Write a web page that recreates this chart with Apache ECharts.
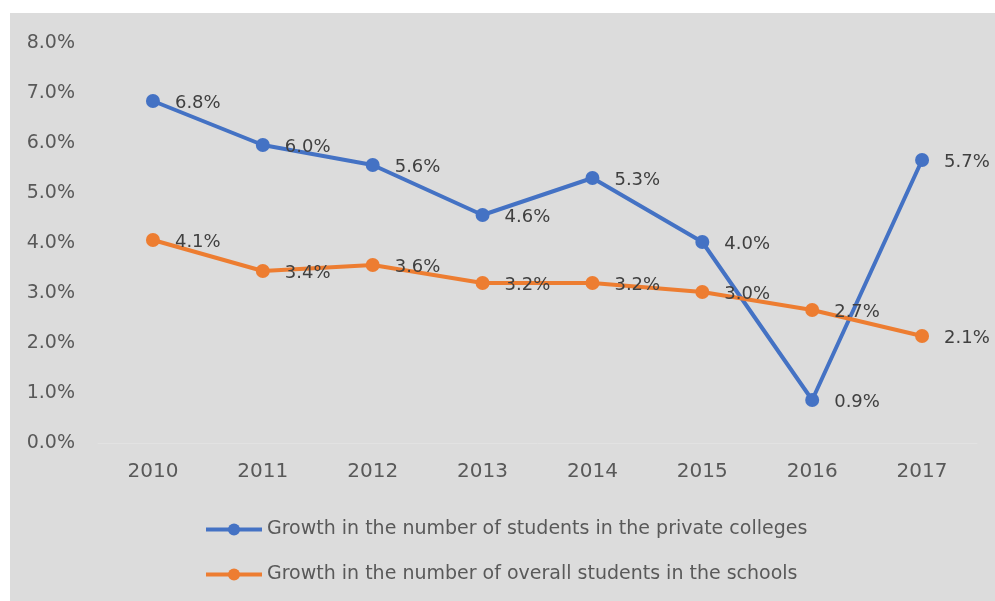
<!DOCTYPE html>
<html>
<head>
<meta charset="utf-8">
<script src="https://cdn.jsdelivr.net/npm/echarts@6/dist/echarts.min.js"></script>
<style>html,body{margin:0;padding:0;background:#fff;}#c{width:995px;height:601px;}</style>
</head>
<body>
<div id="c"></div>
<script>
const years = ['2010','2011','2012','2013','2014','2015','2016','2017'];
const privateColleges = [6.84, 5.96, 5.56, 4.56, 5.30, 4.02, 0.86, 5.66];
const overallSchools = [4.06, 3.44, 3.56, 3.20, 3.20, 3.02, 2.66, 2.14];
const seriesNames = ['Growth in the number of students in the private colleges', 'Growth in the number of overall students in the schools'];

const chart = echarts.init(document.getElementById('c'), null, {renderer: 'canvas'});
const font = '"DejaVu Sans", sans-serif';
const mkLabel = {
  show: true, position: 'right', distance: 15, offset: [0, 2],
  color: '#404040', fontSize: 18, fontFamily: font,
  formatter: p => p.value.toFixed(1) + '%'
};
chart.setOption({
  animation: false,
  backgroundColor: '#ffffff',
  graphic: [{type: 'rect', z: -10, left: 10, top: 13, shape: {width: 985, height: 588}, style: {fill: '#dcdcdc'}}],
  grid: {left: 98, right: 18, top: 43, bottom: 158},
  xAxis: {
    type: 'category', data: years, boundaryGap: true,
    axisLine: {show: true, lineStyle: {color: '#e2e2e2', width: 1}},
    axisTick: {show: false},
    axisLabel: {color: '#595959', fontSize: 20, fontFamily: font, margin: 19}
  },
  yAxis: {
    type: 'value', min: 0, max: 8, interval: 1,
    splitLine: {show: false},
    axisLine: {show: false}, axisTick: {show: false},
    axisLabel: {color: '#595959', fontSize: 19, fontFamily: font, margin: 23, formatter: v => v.toFixed(1) + '%'}
  },
  legend: {
    orient: 'vertical', left: 199, top: 515, itemGap: 26,
    itemWidth: 56, itemHeight: 15,
    lineStyle: {width: 4},
    textStyle: {color: '#595959', fontSize: 19, fontFamily: font},
    data: seriesNames
  },
  series: [
    {name: seriesNames[0], type: 'line', data: privateColleges, symbol: 'circle', symbolSize: 14,
     itemStyle: {color: '#4472c4'}, lineStyle: {width: 4, color: '#4472c4'}, label: mkLabel},
    {name: seriesNames[1], type: 'line', data: overallSchools, symbol: 'circle', symbolSize: 14,
     itemStyle: {color: '#ed7d31'}, lineStyle: {width: 4, color: '#ed7d31'}, label: mkLabel}
  ]
});
</script>
</body>
</html>
